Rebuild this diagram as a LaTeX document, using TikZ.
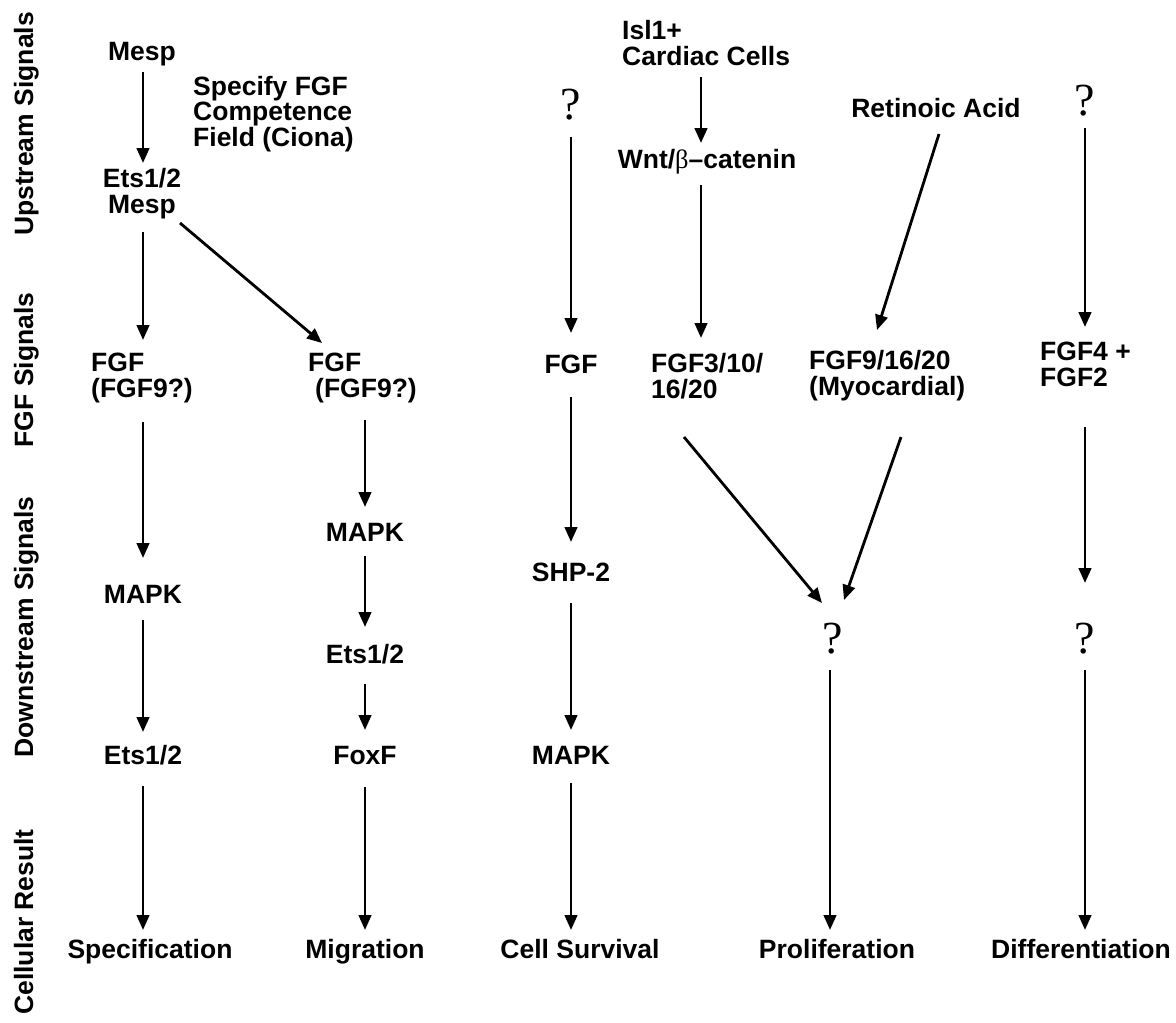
\documentclass[tikz,border=0pt]{standalone}
\usepackage{fontspec}
\setmainfont{Liberation Sans}
\newfontfamily\qfont{Liberation Serif}
\usetikzlibrary{arrows.meta,calc}
\begin{document}
\begin{tikzpicture}[x=1pt,y=-1pt,
  lbl/.style={font={\fontsize{26.5pt}{25.5pt}\selectfont\bfseries}, inner sep=0pt, anchor=base},
  lblL/.style={lbl, align=left, anchor=base west},
  qm/.style={font={\qfont\fontsize{46pt}{46pt}\selectfont}, inner sep=0pt, anchor=base},
  side/.style={lbl, rotate=90},
  arr/.style={line width=2.8pt, -{Triangle[length=15pt,width=12.5pt]}}]
\useasboundingbox[fill=white] (0,0) rectangle (1176,1023);

% side labels
\node[side] (s1) at (33,124) {Upstream Signals};
\node[side] (s2) at (33,370) {FGF Signals};
\node[side] (s3) at (33,627) {Downstream Signals};
\node[side] (s4) at (33,922) {Cellular Result};

% column 1 (base of a multi-line node = its last line)
\node[lbl] (mesp) at (142,60) {Mesp};
\node[lbl, align=center] (etsmesp) at (142,213) {Ets1/2\\Mesp};
\node[lblL] (spec) at (193,146) {Specify FGF\\Competence\\Field (Ciona)};
\node[lblL] (fgfA) at (91,397) {FGF\\(FGF9?)};
\node[lbl] (mapkA) at (143,603) {MAPK};
\node[lbl] (etsA) at (143,764) {Ets1/2};
\node[lbl] (specA) at (150,958) {Specification};

% column 2
\node[lblL] (fgfB) at (308,397) {FGF\\\hspace*{7pt}(FGF9?)};
\node[lbl] (mapkB) at (365,541) {MAPK};
\node[lbl] (etsB) at (365,663) {Ets1/2};
\node[lbl] (foxB) at (365,764) {FoxF};
\node[lbl] (migB) at (365,958) {Migration};

% column 3
\node[qm] (qC) at (571,119) {?};
\node[lbl] (fgfC) at (571,373) {FGF};
\node[lbl] (shpC) at (571,581) {SHP-2};
\node[lbl] (mapkC) at (571,764) {MAPK};
\node[lbl] (survC) at (580,958) {Cell Survival};

% column 4
\node[lblL] (isl) at (622,65) {Isl1+\\Cardiac Cells};
\node[lbl] (wnt) at (707,168) {Wnt/{\qfont\mdseries β}–catenin};
\node[lblL] (fgf3) at (651,398) {FGF3/10/\\16/20};

% column 5
\node[lbl] (ra) at (936,117) {Retinoic Acid};
\node[lblL] (fgf9) at (809,395) {FGF9/16/20\\(Myocardial)};
\node[qm] (qE) at (833,653) {?};
\node[lbl] (prolif) at (837,958) {Proliferation};

% column 6
\node[qm] (qF1) at (1085,115) {?};
\node[lblL] (fgf4) at (1040,386) {FGF4 +\\FGF2};
\node[qm] (qF2) at (1085,653) {?};
\node[lbl] (diff) at (1081,958) {Differentiation};

% connectors
\draw[arr] ($(mesp.base)+(1,12)$) -- ($(etsmesp.base)+(1,-50)$);
\draw[arr] ($(etsmesp.base)+(1,19)$) -- ($(fgfA.base west)+(52,-57)$);
\draw[arr] ($(etsmesp.base)+(38,10)$) -- ($(fgfB.base west)+(14,-54)$);
\draw[arr] ($(fgfA.base west)+(52,25)$) -- ($(mapkA.base)+(0,-45)$);
\draw[arr] ($(mapkA.base)+(0,17)$) -- ($(etsA.base)+(0,-32)$);
\draw[arr] ($(etsA.base)+(0,22)$) -- ($(etsA.base |- specA.base)+(0,-28)$);

\draw[arr] ($(fgfB.base west)+(57,23)$) -- ($(mapkB.base)+(0,-34)$);
\draw[arr] ($(mapkB.base)+(0,15)$) -- ($(etsB.base)+(0,-36)$);
\draw[arr] ($(etsB.base)+(0,21)$) -- ($(foxB.base)+(0,-34)$);
\draw[arr] ($(foxB.base)+(0,23)$) -- ($(migB.base)+(0,-28)$);

\draw[arr] ($(qC.base)+(0,18)$) -- ($(fgfC.base)+(0,-40)$);
\draw[arr] ($(fgfC.base)+(0,24)$) -- ($(shpC.base)+(0,-39)$);
\draw[arr] ($(shpC.base)+(0,22)$) -- ($(mapkC.base)+(0,-34)$);
\draw[arr] ($(mapkC.base)+(0,19)$) -- ($(mapkC.base |- survC.base)+(0,-28)$);

\draw[arr] ($(isl.base west)+(79,12)$) -- ($(wnt.base)+(-6,-25)$);
\draw[arr] ($(wnt.base)+(-6,17)$) -- ($(fgf3.base west)+(50,-60)$);
\draw[arr] ($(fgf3.base west)+(33,39)$) -- ($(qE.base)+(-11,-50)$);

\draw[arr] ($(ra.base)+(3,17)$) -- ($(fgf9.base west)+(68,-65)$);
\draw[arr] ($(fgf9.base west)+(92,42)$) -- ($(qE.base)+(11,-53)$);
\draw[arr] ($(qE.base)+(-3,17)$) -- ($(prolif.base)+(-7,-28)$);

\draw[arr] ($(qF1.base)+(0,13)$) -- ($(fgf4.base west)+(45,-59)$);
\draw[arr] ($(fgf4.base west)+(45,41)$) -- ($(qF2.base)+(0,-70)$);
\draw[arr] ($(qF2.base)+(0,17)$) -- ($(diff.base)+(4,-28)$);
\end{tikzpicture}
\end{document}
